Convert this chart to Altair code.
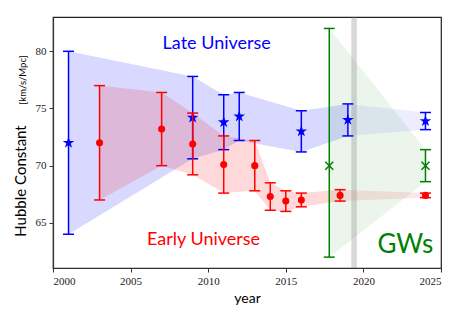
import altair as alt
import pandas as pd

# ---- data ----
late_years = [2001, 2009, 2011, 2012, 2016, 2019, 2024]
late_h0 = [72.0, 74.2, 73.8, 74.3, 73.0, 74.0, 73.9]
late_err = [8.0, 3.6, 2.4, 2.1, 1.8, 1.4, 0.75]

early_years = [2003, 2007, 2009, 2011, 2013, 2014, 2015, 2016, 2018.5, 2024]
early_h0 = [72.0, 73.2, 71.9, 70.1, 70.0, 67.3, 66.9, 67.0, 67.4, 67.4]
early_err = [5.0, 3.2, 2.7, 2.5, 2.2, 1.2, 0.9, 0.6, 0.5, 0.2]

gw_years = [2017.8, 2024]
gw_h0 = [70.0, 70.0]
gw_err_lo = [8.0, 1.4]
gw_err_hi = [12.0, 1.4]

x_ticks = [2000, 2005, 2010, 2015, 2020, 2025]
y_ticks = [65, 70, 75, 80]
x_domain = [2000, 2025]
y_domain = [61.05, 83.0]
gap_year = 2019.4

BLUE, RED, GREEN = "#0000ff", "#ff0000", "#008000"
STAR = ("M0,-1L0.2245,-0.309L0.9511,-0.309L0.3633,0.118L0.5878,0.809L0,0.382"
        "L-0.5878,0.809L-0.3633,0.118L-0.9511,-0.309L-0.2245,-0.309Z")
XMARK = "M-1,-1L1,1M-1,1L1,-1"


def frame(years, h0, lo_err, hi_err):
    return pd.DataFrame({
        "year": years,
        "h0": h0,
        "lo": [v - e for v, e in zip(h0, lo_err)],
        "hi": [v + e for v, e in zip(h0, hi_err)],
    })


late = frame(late_years, late_h0, late_err, late_err)
early = frame(early_years, early_h0, early_err, early_err)
gw = frame(gw_years, gw_h0, gw_err_lo, gw_err_hi)

late_now, late_future = late.iloc[:6], late.iloc[5:]
early_now, early_future = early.iloc[:9], early.iloc[8:]

XS = alt.Scale(domain=x_domain, nice=False, zero=False)
YS = alt.Scale(domain=y_domain, nice=False, zero=False)
XAX = alt.Axis(values=x_ticks, format="d", title="year", orient="bottom")
YAX = alt.Axis(values=y_ticks, format="d", title=None, orient="left")
X = alt.X("year:Q", scale=XS, axis=XAX)


def Y(field):
    return alt.Y(field, type="quantitative", scale=YS, axis=YAX)


layers = []


def band(df, color, opacity):
    layers.append(alt.Chart(df).mark_area(color=color, opacity=opacity).encode(
        x=X, y=Y("lo"), y2="hi"))


def errbars(df, color, shape, size, filled=True):
    base = alt.Chart(df)
    layers.append(base.mark_rule(color=color, strokeWidth=1.5).encode(
        x=X, y=Y("lo"), y2="hi"))
    for f in ("lo", "hi"):
        layers.append(base.mark_tick(orient="horizontal", size=11, thickness=1.5,
                                     color=color, opacity=1).encode(x=X, y=Y(f)))
    if filled:
        pts = base.mark_point(shape=shape, filled=True, size=size, color=color, opacity=1)
    else:
        pts = base.mark_point(shape=shape, filled=False, size=size, color=color,
                              strokeWidth=1.5, opacity=1)
    layers.append(pts.encode(x=X, y=Y("h0")))


band(late_now, BLUE, 0.15)
band(late_future, BLUE, 0.07)
band(early_now, RED, 0.15)
band(early_future, RED, 0.1)
band(gw, GREEN, 0.08)

layers.append(alt.Chart(pd.DataFrame({"year": [gap_year]})).mark_rule(
    color="gray", opacity=0.3, strokeWidth=5.5).encode(x=X))

errbars(late, BLUE, STAR, 150)
errbars(early, RED, "circle", 50)
errbars(gw, GREEN, XMARK, 64, filled=False)


def label(txt, xv, yv, color, size):
    d = pd.DataFrame({"t": [txt], "year": [xv], "h0": [yv]})
    layers.append(alt.Chart(d).mark_text(
        font="Lato", fontSize=size, color=color, align="center", baseline="middle"
    ).encode(x=X, y=Y("h0"), text="t:N"))


label("Late Universe", 2010.55, 80.6, BLUE, 18)
label("Early Universe", 2009.7, 63.5, RED, 18)
label("GWs", 2022.7, 63.1, GREEN, 26)

layers.append(alt.Chart(pd.DataFrame({"t": ["Hubble Constant"]})).mark_text(
    font="Lato", fontSize=15, color="black", angle=270, align="center", baseline="middle"
).encode(x=alt.value(-32), y=alt.value(164), text="t:N"))
layers.append(alt.Chart(pd.DataFrame({"t": ["[km/s/Mpc]"]})).mark_text(
    font="Lato", fontSize=9.5, color="black", angle=270, align="center", baseline="middle"
).encode(x=alt.value(-30), y=alt.value(63), text="t:N"))

chart = alt.layer(*layers).properties(
    width=388, height=251,
    autosize=alt.AutoSizeParams(type="none"),
    padding={"left": 45, "top": 9, "right": 6, "bottom": 38},
).configure_view(
    stroke="#222", strokeWidth=1.2
).configure_axis(
    grid=False,
    labelFont="Liberation Serif", labelFontSize=11, labelColor="#222",
    tickColor="#333", tickSize=4, domainColor="#333", domainWidth=1.2,
    titleFont="Lato", titleFontSize=14, titleFontWeight="normal", titleColor="black",
    labelPadding=3, titlePadding=5,
)

chart.save("out.html", embed_options={"renderer": "svg", "actions": False})
